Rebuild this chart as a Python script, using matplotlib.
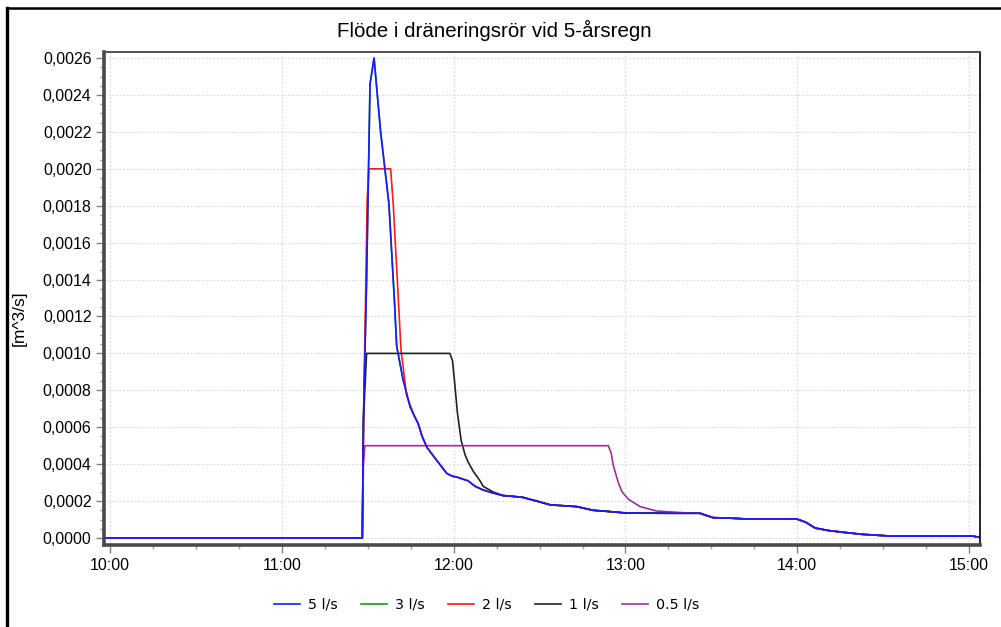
import matplotlib
matplotlib.use("Agg")
import matplotlib.pyplot as plt
from matplotlib.ticker import MultipleLocator, FuncFormatter
from matplotlib.lines import Line2D

# minuter efter 10:00 och flöde [m^3/s]
t_5 = [-3, 88.1, 88.5, 89.6, 90.8, 92.2, 94.5, 97.4, 99.3, 100.1, 102.3, 104.8,
       106.0, 107.6, 109.0, 110.7, 114.1, 117.6, 119.5, 121.1, 123.0, 125.0, 127.5,
       130.3, 133.5, 137.2, 141.0, 144.2, 146.5, 149.0, 153.6, 158.0, 163.0,
       168.7, 173.0, 180.4, 195.0, 206.0, 210.6, 216.0, 222.3, 239.8, 243.0,
       246.2, 251.0, 256.0, 262.5, 273.0, 301.4, 303.8]
q_5 = [0, 0, 0.00064, 0.0014, 0.00246, 0.0026, 0.0022, 0.00181, 0.00129, 0.00104,
       0.00086, 0.00071, 0.00067, 0.00062, 0.00055, 0.00049, 0.00042, 0.00035,
       0.000335, 0.00033, 0.00032, 0.00031, 0.00028, 0.00026, 0.000245, 0.00023,
       0.000225, 0.00022, 0.00021, 0.0002, 0.00018, 0.000175, 0.00017, 0.00015,
       0.000145, 0.000135, 0.000134, 0.000134, 0.00011, 0.000108, 0.000103,
       0.000103, 0.000085, 0.000054, 0.00004, 0.000031, 0.00002, 0.00001,
       0.00001, 0.000003]

# 3 l/s begränsar aldrig, samma som 5 l/s
t_3 = t_5
q_3 = q_5

t_2 = [-3, 88.1, 88.6, 89.8, 90.4, 98.0, 98.9, 100.7, 101.6, 103.6, 105.8]
q_2 = [0, 0, 0.0007, 0.00183, 0.0020, 0.0020, 0.00181, 0.00129, 0.00102, 0.00077, 0.00068]

t_1 = [-3, 88.1, 88.5, 89.6, 118.7, 119.6, 120.3, 121.3, 122.6, 124.0, 125.1,
       126.9, 129.2, 130.3, 133.7, 137.2]
q_1 = [0, 0, 0.00064, 0.0010, 0.0010, 0.00096, 0.00085, 0.00068, 0.00053, 0.00045,
       0.00041, 0.00036, 0.00031, 0.00028, 0.00025, 0.00023]

t_05 = [-3, 88.1, 88.5, 89.0, 174.0, 175.0, 175.8, 177.5, 178.8, 181.0, 185.1,
        190.9, 200.2, 206.0]
q_05 = [0, 0, 0.0004, 0.0005, 0.0005, 0.00046, 0.00039, 0.0003, 0.00025, 0.00021,
        0.00017, 0.000146, 0.000137, 0.000134]


def with_tail(t, q):
    # efter sammanslagningen följer serien 5 l/s-kurvan
    tt = list(t)
    qq = list(q)
    for a, b in zip(t_5, q_5):
        if a > t[-1]:
            tt.append(a)
            qq.append(b)
    return tt, qq


series = [
    ("3 l/s", t_3, q_3, "#1a9a1a"),
    ("2 l/s", *with_tail(t_2, q_2), "#ff1a1a"),
    ("1 l/s", *with_tail(t_1, q_1), "#222222"),
    ("0.5 l/s", *with_tail(t_05, q_05), "#9b309b"),
    ("5 l/s", t_5, q_5, "#1a1aff"),
]
legend_order = ["5 l/s", "3 l/s", "2 l/s", "1 l/s", "0.5 l/s"]

plt.rcParams["font.family"] = ["Liberation Sans", "DejaVu Sans"]

fig = plt.figure(figsize=(10.01, 6.27), dpi=100)
ax = fig.add_axes([104 / 1001, 82 / 627, 876 / 1001, 493 / 627])

colors = {}
for name, t, q, c in series:
    ax.plot(t, q, color=c, lw=1.2, solid_joinstyle="round")
    colors[name] = c

ax.set_xlim(-2.1, 303.8)
ax.set_ylim(-0.000038, 0.002633)

ax.xaxis.set_major_locator(MultipleLocator(60))
ax.xaxis.set_minor_locator(MultipleLocator(15))
ax.yaxis.set_major_locator(MultipleLocator(0.0002))
ax.yaxis.set_minor_locator(MultipleLocator(0.00005))
ax.xaxis.set_major_formatter(FuncFormatter(lambda v, p: "%d:%02d" % (10 + int(v // 60), int(v % 60))))
ax.yaxis.set_major_formatter(FuncFormatter(lambda v, p: ("%.4f" % v).replace(".", ",")))

ax.tick_params(which="major", length=6, width=1, color="#808080", labelsize=11.5, pad=3)
ax.tick_params(which="minor", length=3, width=1, color="#a0a0a0")
ax.grid(True, which="major", color="#dcdcdc", lw=0.9, ls=(0, (1.5, 1.5)))
ax.set_axisbelow(True)

for s in ["left", "bottom"]:
    ax.spines[s].set_linewidth(2.6)
    ax.spines[s].set_color("#4a4a4a")
ax.spines["top"].set_linewidth(1.4)
ax.spines["top"].set_color("#505050")
ax.spines["right"].set_linewidth(1.2)
ax.spines["right"].set_color("black")

fig.text(494 / 1001, 1 - 30 / 627, "Flöde i dräneringsrör vid 5-årsregn",
         ha="center", va="center", fontsize=14.8)
fig.text(19 / 1001, 1 - 318 / 627, "[m^3/s]", rotation=90,
         ha="center", va="center", fontsize=12.5)

# ram runt figuren
fig.add_artist(Line2D([7 / 1001, 7 / 1001], [0, 1 - 8 / 627], color="black", lw=2.4,
                      transform=fig.transFigure))
fig.add_artist(Line2D([7 / 1001, 1], [1 - 8 / 627, 1 - 8 / 627], color="black", lw=1.8,
                      transform=fig.transFigure))

handles = [Line2D([], [], color=colors[n], lw=1.2) for n in legend_order]
fig.legend(handles, legend_order, loc="center", bbox_to_anchor=(487 / 1001, 1 - 605 / 627),
           ncol=5, frameon=False, handlelength=1.8, handletextpad=0.6, columnspacing=1.6,
           prop={"family": "DejaVu Sans", "size": 10.3})

fig.savefig("out.png", dpi=100)
